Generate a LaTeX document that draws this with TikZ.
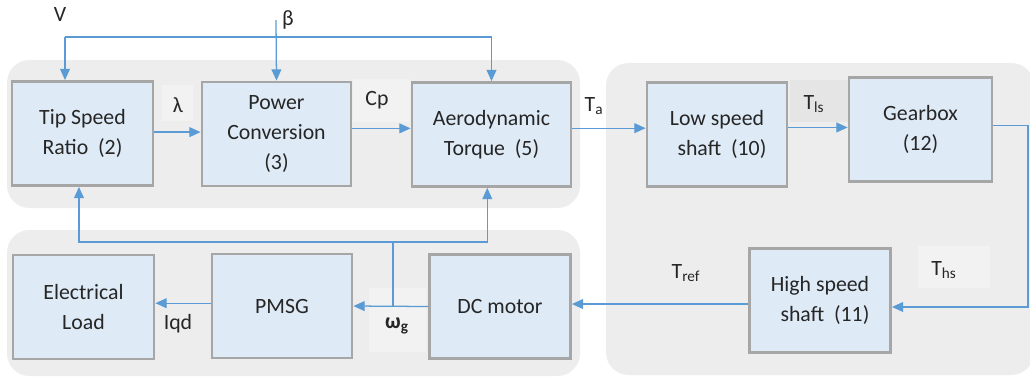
\documentclass[tikz,border=0pt]{standalone}
\usepackage{fontspec}
\setmainfont{Carlito}
\usetikzlibrary{positioning, arrows.meta, calc}

\definecolor{boxfill}{HTML}{DEEAF6}
\definecolor{boxedge}{HTML}{A6A6A6}
\definecolor{grpfill}{HTML}{EDEDED}
\definecolor{flowblue}{HTML}{5B9BD5}
\definecolor{txtgray}{HTML}{262626}

\begin{document}
\begin{tikzpicture}[
    x=0.025cm, y=-0.025cm,     % 1単位 = 元画像の1ピクセル
    font=\fontsize{15.5}{21.5}\selectfont,
    text=txtgray,
    >={Triangle[length=8pt,width=7pt]},
    blk/.style={draw=boxedge, line width=2pt, fill=boxfill,
                minimum width={#1*0.025cm}, minimum height=2.6cm, align=center},
    blk/.default=141,
    grp/.style={fill=grpfill, rounded corners=16pt},
    flow/.style={->, draw=flowblue, line width=0.9pt},
    sigbox/.style={draw=black!7, fill=black!5, line width=0.4pt},
    lbl/.style={inner sep=1pt}
]
    \useasboundingbox (0,0) rectangle (1030,378);

    % --- 1. 背景のグループ ---
    \fill[grp] (7,60) rectangle (580,208);
    \fill[grp] (7,230) rectangle (580,376);
    \fill[grp] (606,63) rectangle (1034,375);

    % 信号ラベルの薄い枠
    \draw[sigbox] (161,84) rectangle (193,121);
    \draw[sigbox] (352,78) rectangle (410,122);
    \fill[black!10] (790,80) rectangle (848,122);
    \draw[sigbox] (917,245) rectangle (990,288);
    \draw[sigbox] (368,287) rectangle (426,352);

    % --- 2. ブロック ---
    \node[blk] (tsr)  at (82.5,133.5) {Tip Speed\\Ratio\ \ (2)};
    \node[blk=149] (pc) at (276.5,134) {Power\\Conversion\\(3)};
    \node[blk=159] (aero) at (491.5,134.5) {Aerodynamic\\Torque\ \ (5)};
    \node[blk=140] (lss) at (717,134.5) {Low speed\\\ \ shaft\ \ (10)};
    \node[blk=143] (gear) at (920.5,129.5) {Gearbox\\(12)};
    \node[blk] (hss)  at (820,300.5) {High speed\\\ \ shaft\ \ (11)};
    \node[blk] (dc)   at (500,306.5) {DC motor};
    \node[blk=140] (pmsg) at (282,306) {PMSG};
    \node[blk] (load) at (83.5,307) {Electrical\\Load};

    % --- 3. 信号ラベル ---
    \node[lbl] (vlbl)  at (60,15)   {V};
    \node[lbl] (beta)  at (288,20)  {β};
    \node[lbl] (lam)   at (178,105) {λ};
    \node[lbl] (cp)    at (377,100) {Cp};
    \node[lbl] (ta)    at (594,106) {T\textsubscript{a}};
    \node[lbl] (tls)   at (814,104) {T\textsubscript{ls}};
    \node[lbl] (ths)   at (944,270) {T\textsubscript{hs}};
    \node[lbl] (tref)  at (686,273) {T\textsubscript{ref}};
    \node[lbl] (wg)    at (397,326) {\textbf{ω\textsubscript{g}}};
    \node[lbl] (iqd)   at (178,324) {Iqd};

    % --- 4. 矢印 ---
    % 風速 V とピッチ角 β
    \coordinate (vbus) at (65,37);
    \coordinate (betain) at (276,20);
    \draw[flow] (vbus) -- (vbus |- tsr.north);
    \draw[flow] (vbus) -| (aero.north);
    \draw[flow] (betain) -- (pc.north);

    % 上段の流れ
    \draw[flow] ([yshift=1pt]tsr.east) -- ([yshift=1pt]tsr.east -| pc.west);
    \draw[flow] ([yshift=4pt]pc.east) -- ([yshift=4pt]pc.east -| aero.west);
    \draw[flow] ([yshift=4.5pt]aero.east) -- ([yshift=4.5pt]aero.east -| lss.west);
    \draw[flow] ([yshift=5pt]lss.east) -- ([yshift=5pt]lss.east -| gear.west);

    % ギアボックスから高速軸へ
    \coordinate (gright) at (1028,0);
    \draw[flow] ([yshift=3pt]gear.east) -- ([yshift=3pt]gear.east -| gright)
        |- ([yshift=-4.6pt]hss.east);
    \draw[flow] ([yshift=-2.5pt]hss.west) -- ([yshift=-2.5pt]hss.west -| dc.east);

    % 下段の流れ
    \draw[flow] (dc.west) -- (pmsg.east);
    \draw[flow] ([yshift=2pt]pmsg.west) -- ([yshift=2pt]pmsg.west -| load.east);

    % ω_g のフィードバック
    \coordinate (wj) at (393,307);
    \coordinate (fb) at (393,242);
    \draw[flowblue, line width=0.9pt] (wj) -- (fb);
    \draw[flow] (fb) -| ([xshift=-2.5pt]tsr.south);
    \draw[flow] (fb) -| ([xshift=-3pt]aero.south);

\end{tikzpicture}
\end{document}
